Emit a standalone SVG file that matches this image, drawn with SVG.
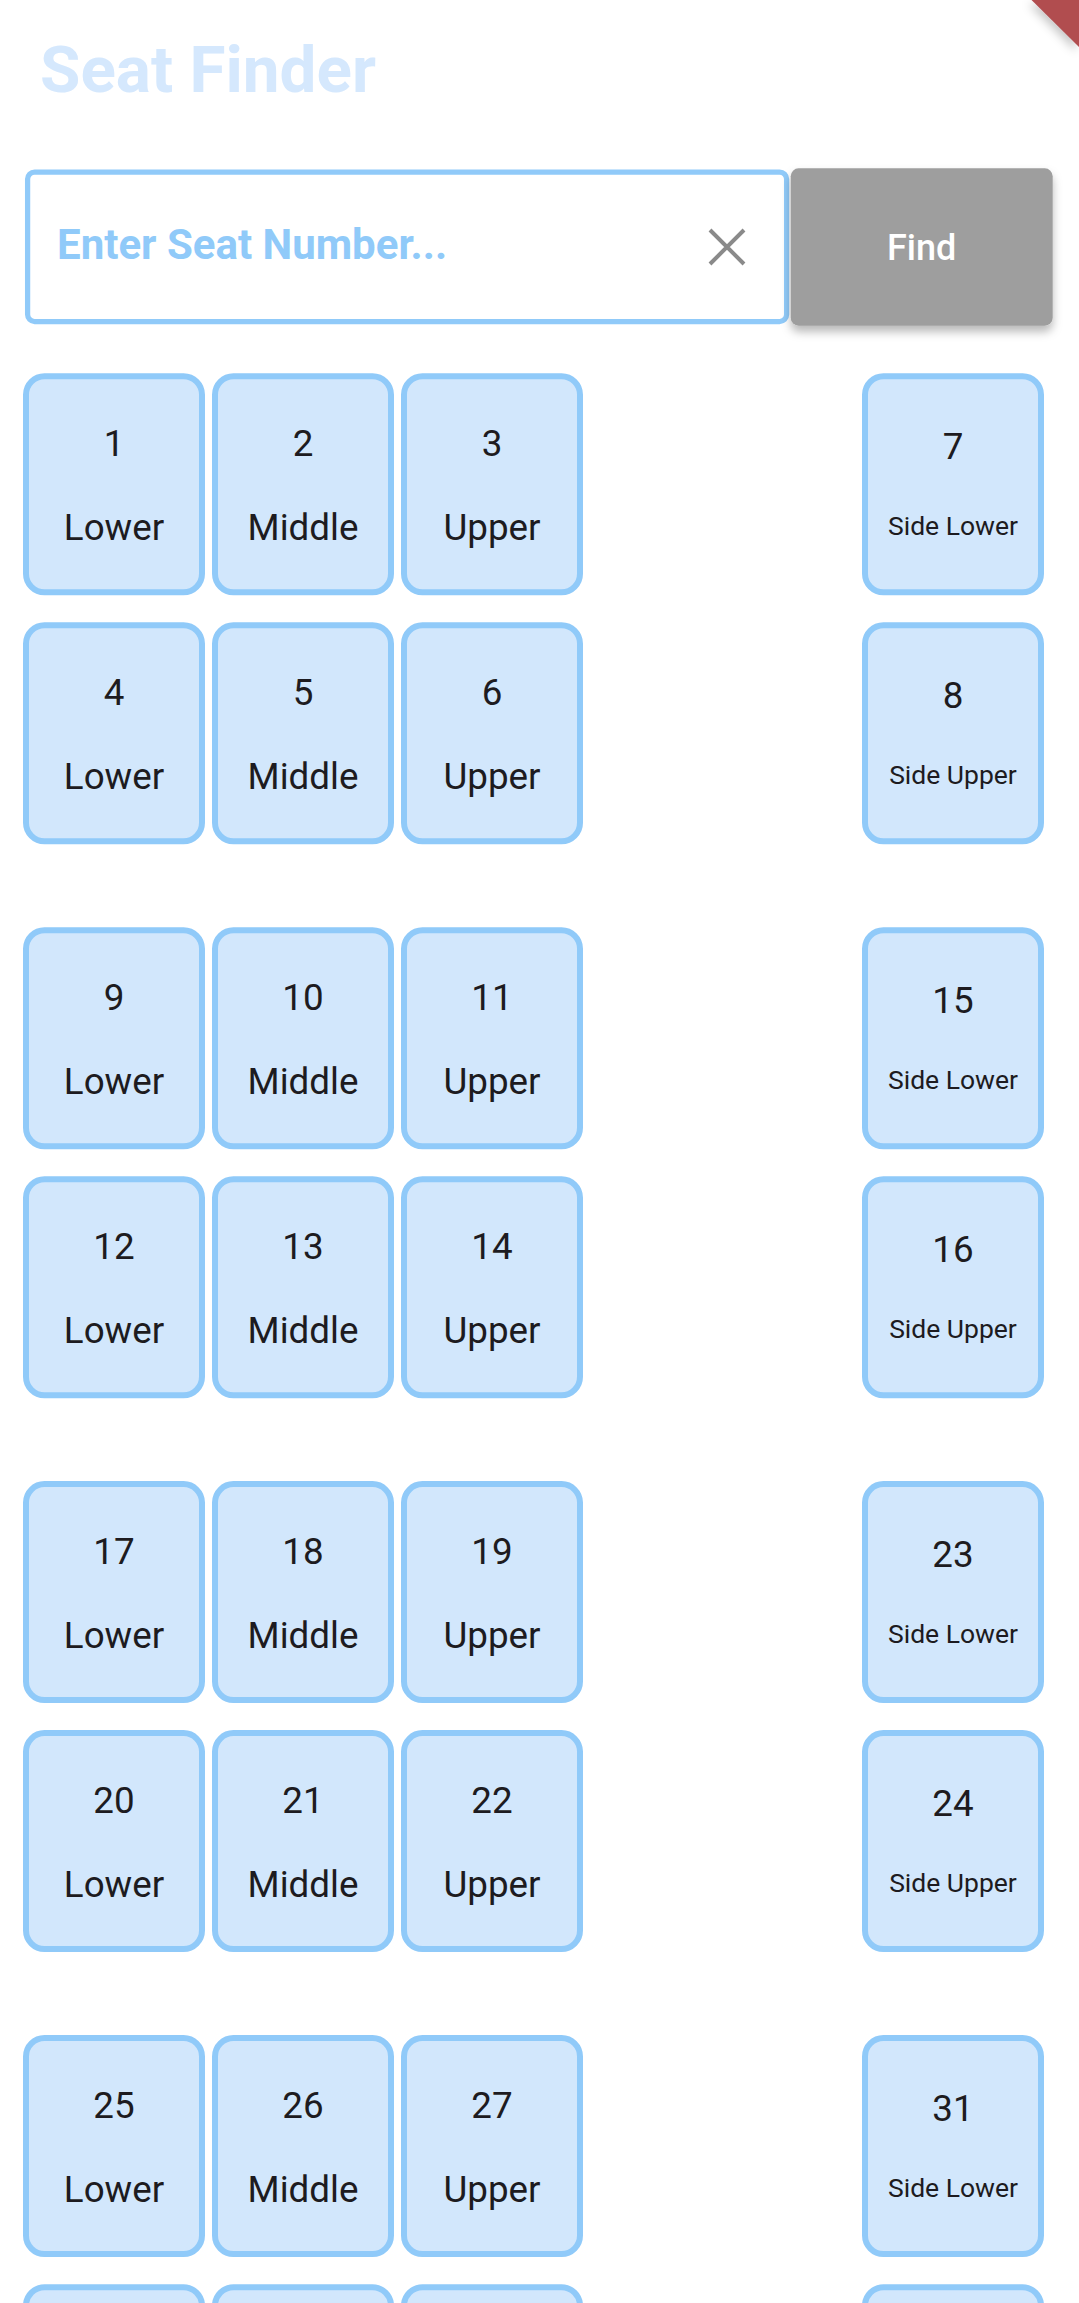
<svg xmlns="http://www.w3.org/2000/svg" width="1079" height="2303" viewBox="0 0 1079 2303">
<style>
.seat rect{fill:#d2e7fc;stroke:#90caf9;stroke-width:6}
.seat text{font-family:Roboto,"Liberation Sans",sans-serif;fill:#1d1b20;text-anchor:middle}
.num{font-size:36.75px}
.lbl{font-size:36.75px}
.slbl{font-size:26.5px}
</style>
<defs>
<filter id="btnShadow" x="-20%" y="-20%" width="140%" height="160%">
<feDropShadow dx="0" dy="6" stdDeviation="5" flood-color="#000" flood-opacity="0.28"/>
</filter>
<filter id="bannerShadow" x="-50%" y="-50%" width="200%" height="200%">
<feDropShadow dx="-3" dy="4" stdDeviation="5" flood-color="#000" flood-opacity="0.22"/>
</filter>
</defs>
<rect width="1079" height="2303" fill="#ffffff"/>
<g id="debug-banner">
<polygon points="1031.5,0 1079,0 1079,47" fill="#b14d50" filter="url(#bannerShadow)"/>
</g>
<g id="title">
<text x="40" y="91.7" font-family="Roboto,'Liberation Sans',sans-serif" font-weight="700" font-size="65.6" fill="#d5e8fd">Seat Finder</text>
</g>
<g id="search-box">
<rect x="27.6" y="172" width="759" height="149.5" rx="7" fill="#ffffff" stroke="#90caf9" stroke-width="5.25"/>
<text x="57" y="259" font-family="Roboto,'Liberation Sans',sans-serif" font-weight="700" font-size="42" fill="#90caf9">Enter Seat Number...</text>
<path d="M710,230 L744,264 M744,230 L710,264" stroke="#8a8a8a" stroke-width="4" fill="none"/>
</g>
<g id="find-button">
<rect x="790.7" y="168.3" width="262" height="157.4" rx="8" fill="#9e9e9e" filter="url(#btnShadow)"/>
<text x="921.7" y="260" text-anchor="middle" font-family="Roboto,'Liberation Sans',sans-serif" font-weight="500" font-size="36" fill="#ffffff">Find</text>
</g>
<g id="connectors"></g>

<!-- Block 1 -->
<g id="seat-1" class="seat" transform="translate(23,373.3)"><rect x="3" y="3" width="176" height="216" rx="18.5"/><text class="num" x="91" y="82.5">1</text><text class="lbl" x="91" y="167">Lower</text></g>
<g id="seat-2" class="seat" transform="translate(212,373.3)"><rect x="3" y="3" width="176" height="216" rx="18.5"/><text class="num" x="91" y="82.5">2</text><text class="lbl" x="91" y="167">Middle</text></g>
<g id="seat-3" class="seat" transform="translate(401,373.3)"><rect x="3" y="3" width="176" height="216" rx="18.5"/><text class="num" x="91" y="82.5">3</text><text class="lbl" x="91" y="167">Upper</text></g>
<g id="seat-7" class="seat" transform="translate(862,373.3)"><rect x="3" y="3" width="176" height="216" rx="18.5"/><text class="num" x="91" y="86">7</text><text class="slbl" x="91" y="162">Side Lower</text></g>
<g id="seat-4" class="seat" transform="translate(23,622.3)"><rect x="3" y="3" width="176" height="216" rx="18.5"/><text class="num" x="91" y="82.5">4</text><text class="lbl" x="91" y="167">Lower</text></g>
<g id="seat-5" class="seat" transform="translate(212,622.3)"><rect x="3" y="3" width="176" height="216" rx="18.5"/><text class="num" x="91" y="82.5">5</text><text class="lbl" x="91" y="167">Middle</text></g>
<g id="seat-6" class="seat" transform="translate(401,622.3)"><rect x="3" y="3" width="176" height="216" rx="18.5"/><text class="num" x="91" y="82.5">6</text><text class="lbl" x="91" y="167">Upper</text></g>
<g id="seat-8" class="seat" transform="translate(862,622.3)"><rect x="3" y="3" width="176" height="216" rx="18.5"/><text class="num" x="91" y="86">8</text><text class="slbl" x="91" y="162">Side Upper</text></g>

<!-- Block 2 -->
<g id="seat-9" class="seat" transform="translate(23,927.2)"><rect x="3" y="3" width="176" height="216" rx="18.5"/><text class="num" x="91" y="82.5">9</text><text class="lbl" x="91" y="167">Lower</text></g>
<g id="seat-10" class="seat" transform="translate(212,927.2)"><rect x="3" y="3" width="176" height="216" rx="18.5"/><text class="num" x="91" y="82.5">10</text><text class="lbl" x="91" y="167">Middle</text></g>
<g id="seat-11" class="seat" transform="translate(401,927.2)"><rect x="3" y="3" width="176" height="216" rx="18.5"/><text class="num" x="91" y="82.5">11</text><text class="lbl" x="91" y="167">Upper</text></g>
<g id="seat-15" class="seat" transform="translate(862,927.2)"><rect x="3" y="3" width="176" height="216" rx="18.5"/><text class="num" x="91" y="86">15</text><text class="slbl" x="91" y="162">Side Lower</text></g>
<g id="seat-12" class="seat" transform="translate(23,1176.2)"><rect x="3" y="3" width="176" height="216" rx="18.5"/><text class="num" x="91" y="82.5">12</text><text class="lbl" x="91" y="167">Lower</text></g>
<g id="seat-13" class="seat" transform="translate(212,1176.2)"><rect x="3" y="3" width="176" height="216" rx="18.5"/><text class="num" x="91" y="82.5">13</text><text class="lbl" x="91" y="167">Middle</text></g>
<g id="seat-14" class="seat" transform="translate(401,1176.2)"><rect x="3" y="3" width="176" height="216" rx="18.5"/><text class="num" x="91" y="82.5">14</text><text class="lbl" x="91" y="167">Upper</text></g>
<g id="seat-16" class="seat" transform="translate(862,1176.2)"><rect x="3" y="3" width="176" height="216" rx="18.5"/><text class="num" x="91" y="86">16</text><text class="slbl" x="91" y="162">Side Upper</text></g>

<!-- Block 3 -->
<g id="seat-17" class="seat" transform="translate(23,1481.1)"><rect x="3" y="3" width="176" height="216" rx="18.5"/><text class="num" x="91" y="82.5">17</text><text class="lbl" x="91" y="167">Lower</text></g>
<g id="seat-18" class="seat" transform="translate(212,1481.1)"><rect x="3" y="3" width="176" height="216" rx="18.5"/><text class="num" x="91" y="82.5">18</text><text class="lbl" x="91" y="167">Middle</text></g>
<g id="seat-19" class="seat" transform="translate(401,1481.1)"><rect x="3" y="3" width="176" height="216" rx="18.5"/><text class="num" x="91" y="82.5">19</text><text class="lbl" x="91" y="167">Upper</text></g>
<g id="seat-23" class="seat" transform="translate(862,1481.1)"><rect x="3" y="3" width="176" height="216" rx="18.5"/><text class="num" x="91" y="86">23</text><text class="slbl" x="91" y="162">Side Lower</text></g>
<g id="seat-20" class="seat" transform="translate(23,1730.1)"><rect x="3" y="3" width="176" height="216" rx="18.5"/><text class="num" x="91" y="82.5">20</text><text class="lbl" x="91" y="167">Lower</text></g>
<g id="seat-21" class="seat" transform="translate(212,1730.1)"><rect x="3" y="3" width="176" height="216" rx="18.5"/><text class="num" x="91" y="82.5">21</text><text class="lbl" x="91" y="167">Middle</text></g>
<g id="seat-22" class="seat" transform="translate(401,1730.1)"><rect x="3" y="3" width="176" height="216" rx="18.5"/><text class="num" x="91" y="82.5">22</text><text class="lbl" x="91" y="167">Upper</text></g>
<g id="seat-24" class="seat" transform="translate(862,1730.1)"><rect x="3" y="3" width="176" height="216" rx="18.5"/><text class="num" x="91" y="86">24</text><text class="slbl" x="91" y="162">Side Upper</text></g>

<!-- Block 4 -->
<g id="seat-25" class="seat" transform="translate(23,2035)"><rect x="3" y="3" width="176" height="216" rx="18.5"/><text class="num" x="91" y="82.5">25</text><text class="lbl" x="91" y="167">Lower</text></g>
<g id="seat-26" class="seat" transform="translate(212,2035)"><rect x="3" y="3" width="176" height="216" rx="18.5"/><text class="num" x="91" y="82.5">26</text><text class="lbl" x="91" y="167">Middle</text></g>
<g id="seat-27" class="seat" transform="translate(401,2035)"><rect x="3" y="3" width="176" height="216" rx="18.5"/><text class="num" x="91" y="82.5">27</text><text class="lbl" x="91" y="167">Upper</text></g>
<g id="seat-31" class="seat" transform="translate(862,2035)"><rect x="3" y="3" width="176" height="216" rx="18.5"/><text class="num" x="91" y="86">31</text><text class="slbl" x="91" y="162">Side Lower</text></g>
<g id="seat-28" class="seat" transform="translate(23,2284.2)"><rect x="3" y="3" width="176" height="216" rx="18.5"/></g>
<g id="seat-29" class="seat" transform="translate(212,2284.2)"><rect x="3" y="3" width="176" height="216" rx="18.5"/></g>
<g id="seat-30" class="seat" transform="translate(401,2284.2)"><rect x="3" y="3" width="176" height="216" rx="18.5"/></g>
<g id="seat-32" class="seat" transform="translate(862,2284.2)"><rect x="3" y="3" width="176" height="216" rx="18.5"/></g>
</svg>
